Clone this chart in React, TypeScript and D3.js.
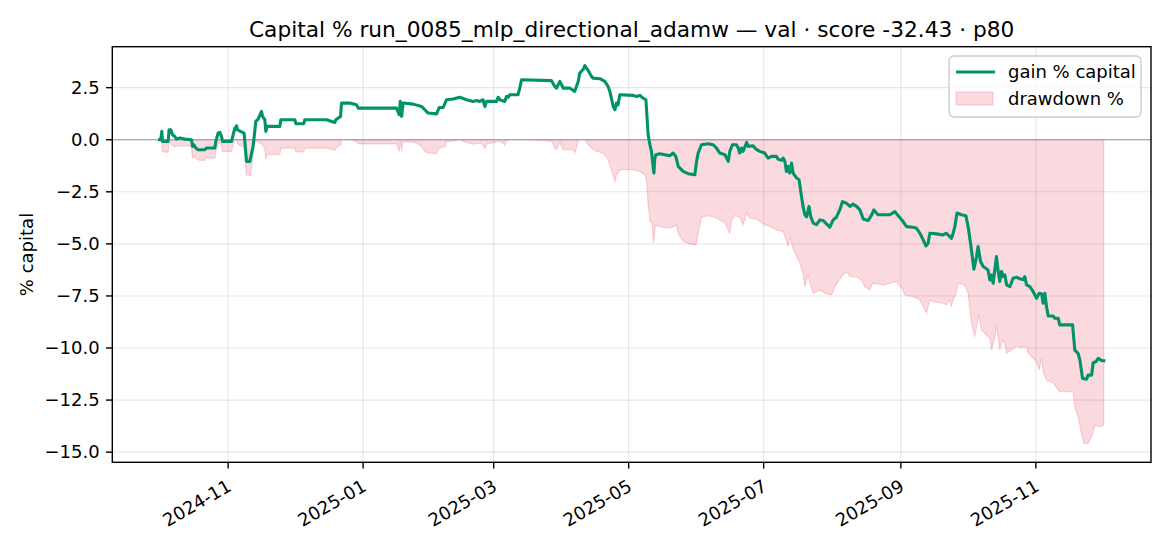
import React from "react";
import * as d3 from "d3";

// ---- data (day offsets from START, values in %) ----
const START = Date.UTC(2024, 9, 1); // 2024-10-01

const gainDay = [
  0, 0.6, 1.04, 1.36, 3.89, 4.34, 5.1, 5.87, 6.91, 7.68, 9.17, 11.43, 14.46, 14.91, 15.5, 16.4, 17.44,
  20.47, 21.24, 24.99, 25.44, 26.48, 27.25, 28.02, 28.47, 32.54, 33.26, 34.03, 34.48, 34.8, 35.25,
  36.6, 38.23, 39.32, 40.81, 42.3, 43.52, 44.56, 46.09, 46.55, 47.59, 48.04, 48.62, 54.36, 54.82,
  61.14, 61.6, 65.2, 65.66, 75.47, 79.22, 79.67, 81.8, 82.25, 86.0, 89.0, 89.75, 107.1, 108.3,
  108.8, 109.4, 110.1, 114.6, 118.4, 119.9, 121.4, 125.2, 126.4, 128.2, 129.7, 132.7, 135.7, 138.7,
  141.7, 143.3, 144.7, 146.2, 147.0, 147.8, 152.3, 153.0, 153.8, 156.0, 156.8, 157.5, 158.3, 162.0,
  162.8, 163.6, 177.1, 178.6, 179.4, 180.9, 181.7, 182.4, 185.4, 187.6, 189.2, 189.9, 191.4, 192.2,
  193.7, 195.2, 195.9, 199.0, 201.2, 202.7, 203.5, 205.0, 205.8, 206.5, 207.2, 208.0, 214.0, 215.6,
  217.1, 218.5, 219.8, 220.8, 221.6, 222.3, 223.4, 223.8, 224.3, 226.1, 230.6, 232.1, 233.3, 234.4,
  236.6, 238.9, 241.9, 242.7, 243.4, 244.9, 247.9, 250.2, 251.7, 253.2, 255.5, 257.0, 257.7, 258.9,
  260.7, 261.5, 262.2, 263.0, 263.7, 265.3, 266.0, 268.2, 269.5, 271.3, 273.5, 275.0, 276.6, 278.8,
  279.5, 281.1, 281.8, 282.6, 283.3, 284.1, 284.8, 285.6, 286.3, 287.9, 289.0, 290.1, 290.8, 291.6,
  292.4, 293.5, 294.3, 295.4, 296.9, 298.4, 299.9, 301.4, 302.9, 304.4, 305.9, 307.4, 308.6, 310.5,
  312.0, 313.4, 315.0, 316.5, 318.0, 320.2, 321.8, 322.8, 324.7, 327.0, 330.0, 332.3, 333.8, 336.0,
  337.6, 340.5, 342.1, 343.6, 345.1, 346.3, 347.3, 348.1, 351.1, 354.1, 355.6, 357.1, 357.9, 358.6,
  359.4, 360.4, 362.4, 364.4, 365.4, 366.5, 368.0, 369.2, 369.9, 371.0, 372.2, 374.4, 375.2, 376.0,
  376.7, 378.2, 379.0, 379.7, 380.5, 381.2, 382.0, 382.8, 384.3, 385.7, 387.3, 388.8, 390.3, 391.0,
  391.8, 393.3, 394.8, 396.3, 397.5, 398.6, 399.3, 400.1, 400.8, 401.6, 403.8, 404.6, 406.1, 406.8,
  409.9, 412.6, 413.6, 415.1, 415.9, 417.1, 418.9, 419.6, 421.2, 421.9, 423.1, 424.2, 425.7, 426.7,
];
const gainPct = [
  0.0, 0.0, 0.4, -0.08, -0.08, 0.48, 0.48, 0.24, 0.16, 0.03, 0.08, 0.03, 0.0, -0.32, -0.24, -0.4, -0.48,
  -0.48, -0.4, -0.4, -0.08, 0.32, 0.35, 0.16, -0.08, -0.08, 0.24, 0.56, 0.48, 0.67, 0.48,
  0.4, 0.32, -1.04, -1.04, -0.32, 0.88, 0.99, 1.36, 1.12, 0.96, 0.4, 0.64, 0.64, 0.96,
  0.96, 0.77, 0.77, 0.96, 0.96, 0.83, 0.96, 1.12, 1.76, 1.76, 1.68, 1.52, 1.52, 1.2,
  1.84, 1.12, 1.76, 1.71, 1.6, 1.44, 1.28, 1.24, 1.55, 1.55, 1.92, 1.96, 2.04, 1.92,
  1.84, 1.88, 1.84, 1.92, 1.6, 1.84, 1.84, 2.04, 1.92, 1.84, 2.08, 2.04, 2.16, 2.16,
  2.48, 2.88, 2.84, 2.56, 2.48, 2.8, 2.64, 2.48, 2.48, 2.32, 2.8, 3.2, 3.37, 3.56,
  3.32, 3.04, 2.96, 2.93, 2.8, 2.56, 2.32, 1.6, 1.44, 1.76, 1.68, 2.16, 2.13, 2.08,
  2.13, 2.0, 1.92, 0.24, -0.24, -0.56, -1.6, -0.9, -0.72, -0.67, -0.77, -0.64, -0.8, -1.28,
  -1.52, -1.63, -1.68, -1.04, -0.64, -0.24, -0.19, -0.24, -0.4, -0.64, -0.72, -1.04, -0.56, -0.24,
  -0.24, -0.4, -0.64, -0.4, -0.56, -0.13, -0.32, -0.29, -0.45, -0.56, -0.64, -0.88, -0.8, -0.8,
  -0.93, -0.99, -0.88, -1.04, -1.52, -1.28, -1.6, -1.12, -1.6, -1.84, -1.92, -2.72, -3.2, -3.6,
  -3.7, -3.2, -3.7, -4.0, -4.08, -3.85, -3.88, -4.04, -4.2, -3.85, -3.72, -3.37, -2.97, -3.05,
  -3.2, -3.09, -3.2, -3.37, -3.81, -3.88, -3.61, -3.37, -3.6, -3.6, -3.6, -3.45, -3.65, -3.93,
  -4.17, -4.2, -4.25, -4.49, -4.81, -5.1, -4.97, -4.49, -4.52, -4.57, -4.49, -4.65, -4.73, -4.49,
  -4.17, -3.52, -3.6, -3.65, -4.17, -4.97, -6.22, -5.61, -5.13, -5.85, -6.09, -6.25, -6.73, -6.49,
  -6.89, -5.61, -6.33, -6.81, -6.33, -6.57, -6.49, -6.97, -7.05, -6.65, -6.6, -6.68, -6.72, -6.57,
  -6.97, -7.05, -7.29, -7.61, -7.37, -7.4, -7.85, -7.37, -8.01, -8.46, -8.46, -8.57, -8.57, -8.89,
  -8.89, -8.89, -10.1, -10.26, -10.58, -11.46, -11.5, -11.3, -11.3, -10.71, -10.66, -10.5, -10.6, -10.61,
];

const ddDay = [
  0, 0.9, 1.36, 3.89, 4.34, 5.42, 6.91, 9.17, 12.2, 14.46, 14.91, 15.95, 16.72, 18.21, 20.47, 20.92,
  24.99, 25.44, 26.48, 27.25, 28.02, 28.47, 32.54, 33.26, 34.03, 34.8, 35.25, 36.29, 38.23, 39.32,
  41.12, 42.03, 42.6, 46.55, 47.59, 48.04, 48.62, 54.36, 54.82, 61.14, 61.6, 65.2, 65.66, 75.47,
  79.22, 79.67, 81.8, 82.25, 86.0, 89.0, 89.75, 107.1, 108.3, 108.8, 109.4, 109.8, 114.6, 116.9,
  118.4, 119.9, 121.4, 125.2, 126.4, 128.9, 129.7, 131.2, 135.7, 138.0, 141.7, 144.7, 146.2, 147.0,
  147.8, 152.3, 153.0, 153.8, 155.3, 156.0, 156.8, 158.3, 163.6, 177.1, 178.6, 179.4, 180.9, 181.7,
  182.4, 186.9, 187.6, 188.4, 189.2, 189.9, 192.2, 193.7, 195.2, 197.4, 199.0, 201.2, 202.7, 203.5,
  204.7, 205.8, 206.5, 208.0, 214.0, 217.1, 219.4, 220.1, 220.8, 221.6, 222.6, 223.2, 224.1, 226.1,
  230.6, 233.6, 234.4, 236.6, 239.6, 242.4, 243.4, 244.9, 247.9, 250.9, 253.2, 255.5, 257.0, 257.7,
  258.5, 260.0, 262.2, 263.7, 265.3, 266.8, 269.8, 272.8, 275.8, 278.8, 281.8, 282.6, 284.1, 284.8,
  286.3, 287.9, 289.4, 290.8, 291.6, 293.1, 293.9, 295.4, 298.4, 301.4, 303.7, 305.2, 308.2, 310.5,
  312.0, 315.0, 317.2, 318.7, 321.0, 322.2, 327.0, 333.1, 336.0, 336.8, 340.5, 343.6, 345.1, 346.6,
  347.3, 348.1, 349.6, 354.1, 355.6, 357.1, 357.9, 358.6, 359.9, 360.9, 363.9, 365.4, 366.9, 368.4,
  369.5, 370.2, 371.5, 373.0, 375.2, 376.0, 377.5, 378.2, 379.0, 379.7, 381.0, 382.0, 382.8, 385.0,
  387.3, 388.8, 391.8, 392.5, 394.8, 396.3, 397.5, 398.6, 399.3, 400.8, 403.8, 406.8, 412.9, 413.6,
  415.1, 416.6, 417.7, 419.6, 421.2, 422.7, 424.9, 426.7,
];
const ddPct = [
  0, 0, -0.56, -0.61, 0, -0.24, -0.32, -0.29, -0.29, -0.32, -0.88, -0.8, -0.93, -0.99, -0.99, -0.88,
  -0.88, -0.56, -0.16, -0.13, -0.32, -0.56, -0.56, -0.24, 0, 0, -0.19, -0.27, -0.35, -1.68,
  -1.72, -0.99, 0, -0.24, -0.4, -0.94, -0.71, -0.71, -0.4, -0.4, -0.58, -0.58, -0.4, -0.4,
  -0.52, -0.4, -0.24, 0, 0, -0.08, -0.2, -0.2, -0.56, 0, -0.56, -0.11, -0.11, -0.21,
  -0.32, -0.56, -0.64, -0.67, -0.4, -0.32, -0.11, -0.08, 0, -0.11, -0.21, -0.16, -0.24, -0.43,
  -0.21, -0.11, 0, -0.11, -0.16, -0.27, -0.05, 0, 0, -0.05, -0.4, -0.48, -0.11, -0.32,
  -0.48, -0.48, -0.64, -0.4, -0.05, 0, 0, -0.23, -0.4, -0.56, -0.59, -0.72, -0.96, -1.2,
  -1.6, -2.0, -1.68, -1.44, -1.44, -1.52, -1.68, -2.0, -3.1, -3.9, -4.0, -4.95, -4.1, -4.17,
  -4.25, -4.09, -4.49, -4.89, -5.0, -5.05, -4.49, -3.72, -3.65, -3.72, -3.85, -4.0, -4.33, -4.52,
  -3.85, -3.65, -3.72, -4.09, -3.52, -3.77, -3.81, -4.04, -4.17, -4.33, -4.41, -4.65, -5.13, -4.65,
  -5.21, -5.61, -5.93, -6.41, -7.05, -6.49, -6.89, -7.37, -7.21, -7.4, -7.45, -7.05, -6.57, -6.33,
  -6.57, -6.57, -6.73, -7.05, -7.21, -6.89, -6.97, -6.81, -7.21, -7.45, -7.53, -7.69, -8.01, -8.33,
  -8.01, -7.69, -7.77, -7.85, -7.93, -7.69, -8.01, -7.69, -7.37, -6.89, -6.97, -7.37, -8.81, -9.46,
  -8.81, -8.41, -9.13, -9.29, -9.53, -10.1, -9.46, -8.89, -9.53, -10.1, -9.62, -9.78, -10.25, -10.1,
  -9.9, -9.97, -9.94, -10.25, -10.49, -10.65, -11.06, -10.49, -11.14, -11.54, -11.67, -12.1, -12.1, -12.82,
  -13.3, -14.1, -14.58, -14.58, -14.26, -13.7, -13.78, -13.7,
];

const xTickLabels = ["2024-11", "2025-01", "2025-03", "2025-05", "2025-07", "2025-09", "2025-11"];
const yTicks = [2.5, 0, -2.5, -5, -7.5, -10, -12.5, -15];

const TITLE = "Capital % run_0085_mlp_directional_adamw — val · score -32.43 · p80";
const Y_LABEL = "% capital";
const LEGEND_LABELS = ["gain % capital", "drawdown %"];

const GREEN = "#00936a";
const PINK = "#e8485f";
const FONT = "DejaVu Sans, sans-serif";

const W = 1170;
const H = 546;
const M = { left: 112.3, right: 1151, top: 46.7, bottom: 462.3 };

const DAY = 86400000;
const toDate = (d: number) => new Date(START + d * DAY);

export default function App() {
  const gain = gainDay.map((d, i) => ({ t: toDate(d), v: gainPct[i] }));
  const dd = ddDay.map((d, i) => ({ t: toDate(d), v: ddPct[i] }));

  const tExt = d3.extent([...gain, ...dd], (p) => p.t.getTime()) as [number, number];
  const tPad = (tExt[1] - tExt[0]) * 0.05;
  const x = d3
    .scaleUtc()
    .domain([new Date(tExt[0] - tPad), new Date(tExt[1] + tPad)])
    .range([M.left, M.right]);

  const vExt = d3.extent([...gainPct, ...ddPct]) as [number, number];
  const vPad = (vExt[1] - vExt[0]) * 0.05;
  const y = d3
    .scaleLinear()
    .domain([vExt[0] - vPad, vExt[1] + vPad])
    .range([M.bottom, M.top]);

  const xTicks = xTickLabels.map((s) => {
    const [yy, mm] = s.split("-").map(Number);
    return { date: new Date(Date.UTC(yy, mm - 1, 1)), label: s };
  });

  const line = d3
    .line<{ t: Date; v: number }>()
    .x((p) => x(p.t))
    .y((p) => y(p.v));
  const area = d3
    .area<{ t: Date; v: number }>()
    .x((p) => x(p.t))
    .y0(() => y(0))
    .y1((p) => y(p.v));

  const fmt = (v: number) => d3.format(".1f")(v).replace("-", "\u2212");

  const tickLen = 6.3;
  const pad = 6.3;

  return (
    <svg
      width={W}
      height={H}
      viewBox={`0 0 ${W} ${H}`}
      style={{ position: "absolute", left: 0, top: 0, background: "#fff" }}
      fontFamily={FONT}
    >
      <rect x={0} y={0} width={W} height={H} fill="#fff" />
      {/* grid */}
      <g stroke="#b0b0b0" strokeOpacity={0.3} strokeWidth={1.1}>
        {xTicks.map((t) => (
          <line key={t.label} x1={x(t.date)} x2={x(t.date)} y1={M.top} y2={M.bottom} />
        ))}
        {yTicks.map((v) => (
          <line key={v} x1={M.left} x2={M.right} y1={y(v)} y2={y(v)} />
        ))}
      </g>
      {/* drawdown fill */}
      <path d={area(dd) || ""} fill={PINK} fillOpacity={0.2} stroke={PINK} strokeOpacity={0.22} strokeWidth={1.2} />
      {/* zero line */}
      <line x1={M.left} x2={M.right} y1={y(0)} y2={y(0)} stroke="#8d97a8" strokeWidth={1.1} />
      {/* gain line */}
      <path d={line(gain) || ""} fill="none" stroke={GREEN} strokeWidth={3.1} strokeLinejoin="round" strokeLinecap="square" />
      {/* spines */}
      <rect
        x={M.left}
        y={M.top}
        width={M.right - M.left}
        height={M.bottom - M.top}
        fill="none"
        stroke="#000"
        strokeWidth={1.4}
      />
      {/* y ticks */}
      <g fontSize={18} fill="#000">
        {yTicks.map((v) => (
          <g key={v}>
            <line x1={M.left - tickLen} x2={M.left} y1={y(v)} y2={y(v)} stroke="#000" strokeWidth={1.4} />
            <text x={M.left - tickLen - pad} y={y(v)} textAnchor="end" dy="0.35em">
              {fmt(v)}
            </text>
          </g>
        ))}
      </g>
      {/* x ticks */}
      <g fontSize={18} fill="#000">
        {xTicks.map((t) => (
          <g key={t.label}>
            <line x1={x(t.date)} x2={x(t.date)} y1={M.bottom} y2={M.bottom + tickLen} stroke="#000" strokeWidth={1.4} />
            <text
              transform={`translate(${x(t.date) - 2},${M.bottom + 16}) rotate(-30)`}
              textAnchor="end"
              dy="0.73em"
            >
              {t.label}
            </text>
          </g>
        ))}
      </g>
      {/* y label */}
      <text transform={`translate(33,${(M.top + M.bottom) / 2}) rotate(-90)`} textAnchor="middle" fontSize={18}>
        {Y_LABEL}
      </text>
      {/* title */}
      <text x={(M.left + M.right) / 2} y={37} textAnchor="middle" fontSize={21.7}>
        {TITLE}
      </text>
      {/* legend */}
      <g>
        <rect x={949} y={56} width={192} height={61} rx={5} fill="#fff" fillOpacity={0.8} stroke="#cccccc" strokeWidth={1.4} />
        <line x1={956} x2={995} y1={72} y2={72} stroke={GREEN} strokeWidth={3.1} />
        <text x={1008} y={78} fontSize={18}>
          {LEGEND_LABELS[0]}
        </text>
        <rect x={956} y={92} width={37} height={13} fill={PINK} fillOpacity={0.2} stroke={PINK} strokeOpacity={0.22} strokeWidth={1.2} />
        <text x={1008} y={105} fontSize={18}>
          {LEGEND_LABELS[1]}
        </text>
      </g>
    </svg>
  );
}
